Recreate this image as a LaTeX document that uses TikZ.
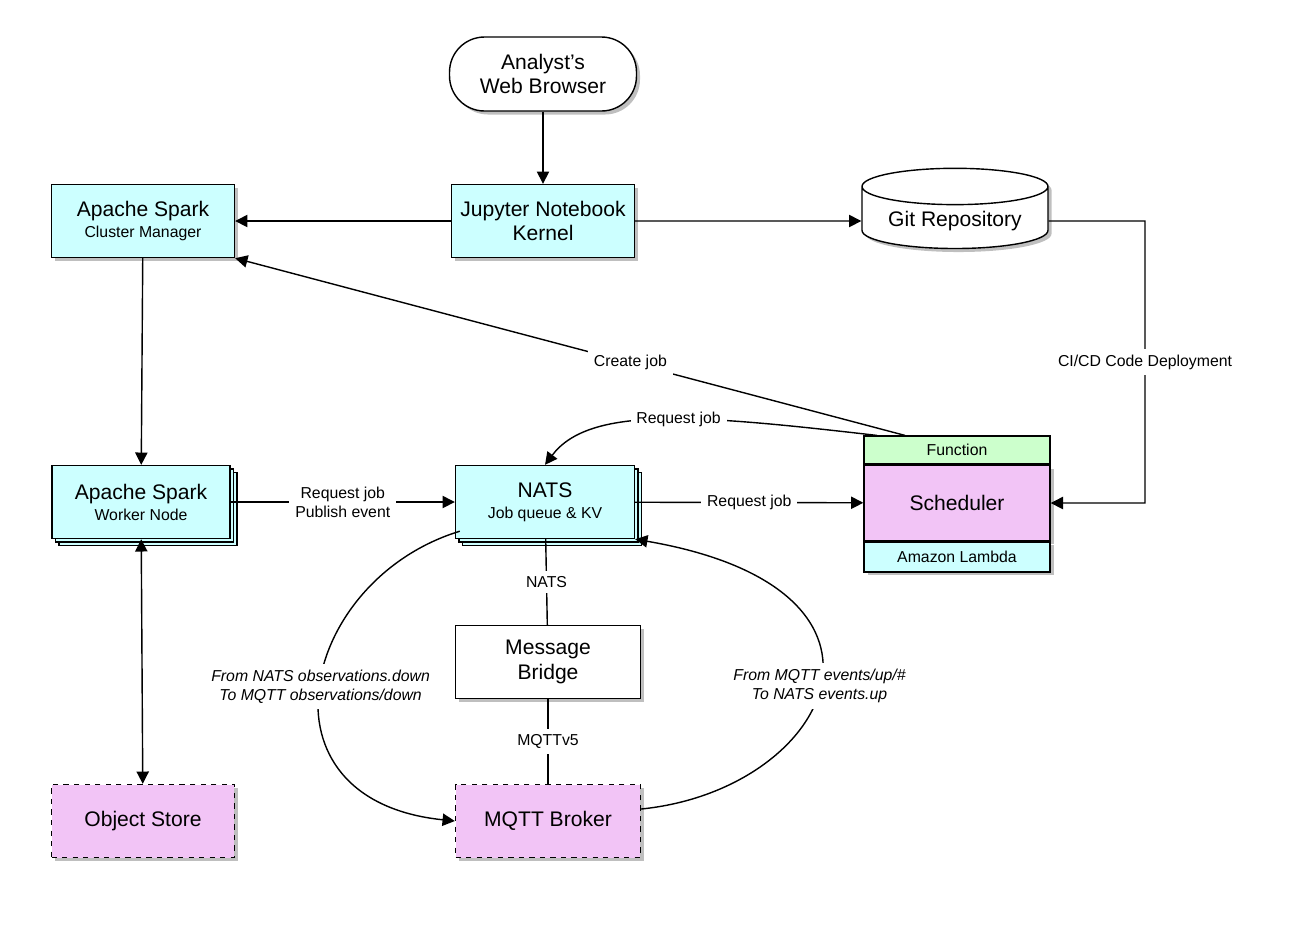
\documentclass[tikz,border=0pt]{standalone}
\usepackage{fontspec}
\setmainfont{Liberation Sans}
\usetikzlibrary{shapes.geometric,shadows,arrows.meta}
\definecolor{boxcyan}{HTML}{CCFFFF}
\definecolor{boxpink}{HTML}{F2C4F6}
\definecolor{boxgreen}{HTML}{CCFFCC}
\tikzset{
  box/.style={draw, thick, fill=boxcyan, minimum width=3.66cm, minimum height=1.46cm, align=center, drop shadow={shadow xshift=2pt, shadow yshift=-2pt, fill=black!50}},
  stack/.style={box, double copy shadow={shadow xshift=2pt, shadow yshift=-2pt, fill=boxcyan, draw}},
  plain/.style={box, fill=white},
  store/.style={box, fill=boxpink, dashed},
  lbl/.style={fill=white, font=\small, align=center},
  arr/.style={-{Triangle[length=7pt,width=7pt]}, thick},
}
\begin{document}
\begin{tikzpicture}[x=0.02cm, y=-0.02cm]
  \useasboundingbox (0,0) rectangle (1300,938);
  \node[plain, rounded corners=0.7cm, minimum width=3.74cm, minimum height=1.48cm, font=\large] (browser) at (543,74) {Analyst's\\Web Browser};
  \node[box] (cm) at (143,221) {\large Apache Spark\\\small Cluster Manager};
  \node[box, font=\large] (jupyter) at (543,221) {Jupyter Notebook\\Kernel};
  \node[cylinder, shape border rotate=90, aspect=0.25, draw, thick, fill=white, minimum width=3.72cm, minimum height=1.5cm, font=\large, drop shadow={shadow xshift=2pt, shadow yshift=-2pt, fill=black!50}] (git) at (955,221) {Git Repository};
  \node[stack, minimum width=3.56cm] (worker) at (141,502) {\large Apache Spark\\\small Worker Node};
  \node[stack, minimum width=3.58cm] (nats) at (545,502) {\large NATS\\\small Job queue \& KV};
  \node[box, fill=boxpink, minimum width=3.72cm, minimum height=1.5cm, font=\large] (sched) at (957,503) {Scheduler};
  \node[draw, thick, fill=boxgreen, minimum width=3.72cm, minimum height=0.56cm, anchor=south, font=\small] (func) at (sched.north) {Function};
  \node[draw, thick, fill=boxcyan, minimum width=3.72cm, minimum height=0.6cm, anchor=north, font=\small, drop shadow={shadow xshift=2pt, shadow yshift=-2pt, fill=black!50}] (lambda) at (sched.south) {Amazon Lambda};
  \node[plain, minimum width=3.7cm, font=\large] (bridge) at (548,662) {Message\\Bridge};
  \node[store, font=\large] (objstore) at (143,821) {Object Store};
  \node[store, minimum width=3.7cm, font=\large] (broker) at (548,821) {MQTT Broker};
  \coordinate (gitR) at (1145,221);
  \coordinate (schedR) at (1145,503);
  % connectors
  \draw[arr] (browser) -- (jupyter);
  \draw[arr] (jupyter) -- (cm);
  \draw[arr] (jupyter) -- (git);
  \draw[arr] (git.east) -- (gitR) -- (schedR) node[lbl, pos=0.5] {CI/CD Code Deployment} -- (sched.east);
  \draw[arr] (func.north) ++(-52,0) -- (cm.south east) node[lbl, pos=0.41] {Create job};
  \draw[arr] (func.north) ++(-80,0) .. controls (700,415) and (590,405) .. (nats.north) node[lbl, pos=0.45] {Request job};
  \draw[arr] (cm) -- (worker);
  \draw[arr] (worker) -- (nats) node[lbl, midway] {Request job\\Publish event};
  \draw[arr] (nats) -- (sched) node[lbl, midway] {Request job};
  \draw[arr, {Triangle[length=7pt,width=7pt]}-{Triangle[length=7pt,width=7pt]}] (worker) -- (objstore);
  \draw[thick] (nats) -- (bridge) node[lbl, midway] {NATS};
  \draw[thick] (bridge) -- (broker) node[lbl, midway] {MQTTv5};
  \draw[arr] (nats.south west) ++(5,-8) .. controls (300,580) and (250,800) .. (broker.west)
    node[lbl, pos=0.5, font=\small\itshape] {From NATS observations.down\\To MQTT observations/down};
  \draw[arr] (broker.east) ++(0,-12) .. controls (830,790) and (930,590) .. (nats.south east)
    node[lbl, pos=0.5, font=\small\itshape] {From MQTT events/up/\#\\To NATS events.up};
\end{tikzpicture}
\end{document}
